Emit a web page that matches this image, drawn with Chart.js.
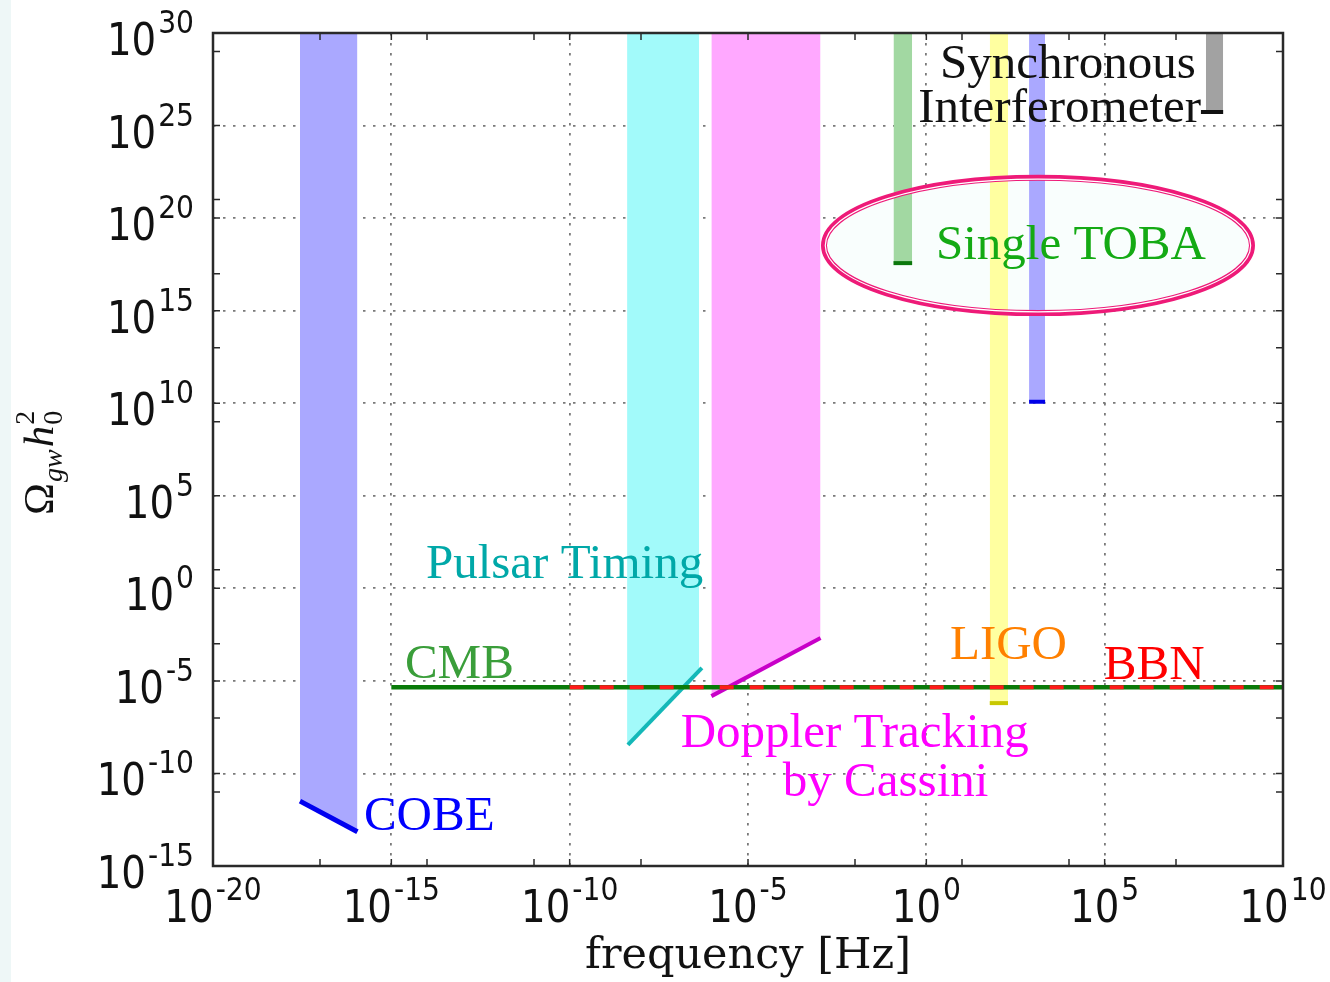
<!DOCTYPE html>
<html><head><meta charset="utf-8">
<script src="https://cdn.jsdelivr.net/npm/chart.js@4.4.1/dist/chart.umd.min.js"></script>
<style>html,body{margin:0;padding:0;background:#fff;overflow:hidden}canvas{display:block}</style>
</head><body>
<canvas id="c" width="1330" height="982"></canvas>
<script>
// ---- axes (exponents of ten) ----
const xTickExps = [-20, -15, -10, -5, 0, 5, 10];
const yTickExps = [-15, -10, -5, 0, 5, 10, 15, 20, 25, 30];
const xMinorTickExps = [-17, -14, -11, -8, -2, 1, 4, 7];
const yMinorTickExps = [29, 21, 17, 13, 9, 1, -3, -7, -11];
const xTitle = 'frequency [Hz]';

// ---- data: frequency [Hz], Omega_gw h0^2 ----
const cobeEdge    = [{x:2.75e-18, y:3.2e-12}, {x:1.12e-16, y:7.1e-14}];
const pulsarBand  = [{x:4.07e-9, y:3.3e-9}, {x:4.27e-7, y:3.6e-5}];
const pulsarLine  = [{x:4.3e-9, y:3.5e-9}, {x:5.1e-7, y:5.0e-5}];
const dopplerEdge = [{x:9.4e-7, y:1.5e-6}, {x:1.08e-3, y:2.05e-3}];
const tobaBand    = [{x:0.12, y:3.7e17}, {x:0.40, y:3.7e17}];
const ligoBand    = [{x:60, y:6.3e-7}, {x:195, y:6.3e-7}];
const blueBand    = [{x:760, y:1.2e10}, {x:2140, y:1.2e10}];
const syncBand    = [{x:6.9e7, y:5.4e25}, {x:2.1e8, y:5.4e25}];
const syncMarker  = [{x:5.0e7, y:5.4e25}, {x:2.1e8, y:5.4e25}];
const cmbLine     = [{x:1e-15, y:4.5e-6}, {x:1e10, y:4.5e-6}];
const bbnLine     = [{x:1e-10, y:4.5e-6}, {x:1e10, y:4.5e-6}];

// ---- annotations (data coordinates) ----
const labels = [
  {text:'Synchronous',      x:2.4,     y:3.7e27,  color:'#111111'},
  {text:'Interferometer',   x:0.59,    y:1.55e25, color:'#111111'},
  {text:'Single TOBA',      x:1.86,    y:6.2e17,  color:'#14aa14'},
  {text:'Pulsar Timing',    x:9.3e-15, y:3.6,     color:'#00a8a8'},
  {text:'CMB',              x:2.4e-15, y:1.45e-5, color:'#3a9e3a'},
  {text:'COBE',             x:1.7e-16, y:8.9e-14, color:'#0000ff'},
  {text:'Doppler Tracking', x:1.3e-7,  y:2.7e-9,  color:'#ff00ff'},
  {text:'by Cassini',       x:9.5e-5,  y:6.0e-12, color:'#ff00ff'},
  {text:'LIGO',             x:4.6,     y:1.5e-4,  color:'#ff8000'},
  {text:'BBN',              x:9.5e4,   y:1.26e-5, color:'#ff0000'}
];
const ellipseBox = {xMin:1.35e-3, xMax:1.35e9, yMin:7.4e14, yMax:1.5e22};

const T = 'rgba(0,0,0,0)';
function band(data, color){ return {data, fill:'end', backgroundColor:color, borderColor:T, borderWidth:0, pointRadius:0, order:20}; }
function line(data, color, w, extra){ return Object.assign({data, fill:false, borderColor:color, borderWidth:w, pointRadius:0, order:5}, extra||{}); }

const datasets = [
  band(cobeEdge, '#aaa8ff'),
  band(pulsarBand, '#a2fafa'),
  band(dopplerEdge, '#ffa8ff'),
  band(tobaBand, '#a2d8a2'),
  band(ligoBand, '#ffffa0'),
  band(blueBand, '#aaa8ff'),
  band(syncBand, '#a2a2a2'),
  line(cobeEdge, '#0000f0', 5),
  line(pulsarLine, '#14b8b8', 4),
  line(dopplerEdge, '#c800c8', 4),
  line(tobaBand, '#0c780c', 4),
  line(ligoBand, '#c8c800', 4),
  line(blueBand, '#0000e8', 4),
  line(syncMarker, '#111111', 4),
  line(cmbLine, '#0a7a0a', 4.5, {order:2}),
  line(bbnLine, '#ff1a1a', 4, {order:1, borderDash:[14,16]})
];

const DIGF = '"DejaVu Sans", sans-serif';
const SX = 0.88;
function drawPow(ctx, e, x, yBase, mode){
  const bf = '44px ' + DIGF, ef = '32px ' + DIGF;
  ctx.font = bf; const wb = ctx.measureText('10').width * SX;
  ctx.font = ef; const es = String(e); const we = ctx.measureText(es).width * SX;
  const gap = 2;
  const W = wb + gap + we;
  let x0 = mode === 'right' ? x - W : x - W / 2;
  ctx.save(); ctx.translate(x0, yBase); ctx.scale(SX, 1); ctx.font = bf; ctx.fillText('10', 0, 0); ctx.restore();
  ctx.save(); ctx.translate(x0 + wb + gap, yBase - 22); ctx.scale(SX, 1); ctx.font = ef; ctx.fillText(es, 0, 0); ctx.restore();
}
function ellipseGeom(chart){
  const xs = chart.scales.x, ys = chart.scales.y;
  const x1 = xs.getPixelForValue(ellipseBox.xMin), x2 = xs.getPixelForValue(ellipseBox.xMax);
  const y1 = ys.getPixelForValue(ellipseBox.yMax), y2 = ys.getPixelForValue(ellipseBox.yMin);
  return {cx:(x1+x2)/2, cy:(y1+y2)/2, rx:(x2-x1)/2, ry:(y2-y1)/2};
}

const decor = {
  id:'decor',
  beforeDraw(chart){
    const ctx = chart.ctx;
    ctx.save();
    ctx.fillStyle = '#ffffff'; ctx.fillRect(0,0,chart.width,chart.height);
    ctx.fillStyle = '#eef7f7'; ctx.fillRect(0,0,11,chart.height);
    ctx.restore();
  },
  beforeDatasetsDraw(chart){
    const ctx = chart.ctx, g = ellipseGeom(chart);
    ctx.save();
    ctx.beginPath(); ctx.ellipse(g.cx, g.cy, g.rx, g.ry, 0, 0, Math.PI*2);
    ctx.fillStyle = '#f9fefd'; ctx.fill();
    ctx.restore();
  },
  afterDraw(chart){
    const ctx = chart.ctx, xs = chart.scales.x, ys = chart.scales.y, a = chart.chartArea;
    const g = ellipseGeom(chart);
    ctx.save();
    ctx.beginPath(); ctx.ellipse(g.cx, g.cy, g.rx, g.ry, 0, 0, Math.PI*2);
    ctx.strokeStyle = '#ee1a78'; ctx.lineWidth = 6; ctx.stroke();
    ctx.beginPath(); ctx.ellipse(g.cx, g.cy, g.rx-1.3, g.ry-1.3, 0, 0, Math.PI*2);
    ctx.strokeStyle = '#ffffff'; ctx.lineWidth = 1.2; ctx.stroke();
    ctx.restore();
    // frame
    ctx.save();
    ctx.strokeStyle = '#2a2a2a'; ctx.lineWidth = 2.5;
    ctx.strokeRect(a.left, a.top, a.right - a.left, a.bottom - a.top);
    // inner tick marks
    ctx.lineWidth = 1.5; ctx.beginPath();
    xTickExps.concat(xMinorTickExps).forEach(e => {
      const p = xs.getPixelForValue(Math.pow(10, e));
      ctx.moveTo(p, a.bottom); ctx.lineTo(p, a.bottom - 7);
      ctx.moveTo(p, a.top); ctx.lineTo(p, a.top + 7);
    });
    yTickExps.concat(yMinorTickExps).forEach(e => {
      const p = ys.getPixelForValue(Math.pow(10, e));
      ctx.moveTo(a.left, p); ctx.lineTo(a.left + 7, p);
      ctx.moveTo(a.right, p); ctx.lineTo(a.right - 7, p);
    });
    ctx.stroke();
    // tick labels
    ctx.fillStyle = '#111'; ctx.textAlign = 'left'; ctx.textBaseline = 'alphabetic';
    yTickExps.forEach(e => { const p = ys.getPixelForValue(Math.pow(10, e)); drawPow(ctx, e, 194, p + 22, 'right'); });
    xTickExps.forEach(e => { const p = xs.getPixelForValue(Math.pow(10, e)); drawPow(ctx, e, p, 922, 'center'); });
    // x title
    ctx.font = '43px "DejaVu Serif", serif'; ctx.textAlign = 'center';
    ctx.fillText(xTitle, (a.left + a.right)/2, 968);
    // y title: Omega_gw h_0^2
    ctx.translate(53, 515); ctx.rotate(-Math.PI/2); ctx.textAlign = 'left';
    let cur = 0;
    ctx.font = '43px "Liberation Serif", serif'; ctx.fillText('\u03A9', cur, 0); cur += ctx.measureText('\u03A9').width + 1;
    ctx.font = 'italic 28px "Liberation Serif", serif'; ctx.fillText('gw', cur, 9); cur += ctx.measureText('gw').width + 2;
    ctx.font = 'italic 43px "Liberation Serif", serif'; ctx.fillText('h', cur, 0); cur += ctx.measureText('h').width + 1;
    ctx.font = '28px "Liberation Serif", serif'; ctx.fillText('0', cur, 9); ctx.fillText('2', cur, -19);
    ctx.restore();
    // annotation labels
    ctx.save();
    ctx.font = '49px "Liberation Serif", serif'; ctx.textAlign = 'left'; ctx.textBaseline = 'alphabetic';
    labels.forEach(l => { ctx.fillStyle = l.color; ctx.fillText(l.text, xs.getPixelForValue(l.x), ys.getPixelForValue(l.y)); });
    ctx.restore();
  }
};

const gridOpts = {color:'#7a7a7a', lineWidth:1.8, drawTicks:false};
new Chart(document.getElementById('c'), {
  type:'line',
  data:{datasets},
  options:{
    responsive:false, animation:false, devicePixelRatio:1,
    layout:{padding:{left:213, top:33, right:47, bottom:116}},
    plugins:{legend:{display:false}, tooltip:{enabled:false}},
    elements:{line:{tension:0}},
    scales:{
      x:{type:'logarithmic', min:1e-20, max:1e10, z:1,
         afterBuildTicks:s => { s.ticks = xTickExps.map(e => ({value:Math.pow(10, e)})); },
         afterFit:s => { s.height = 0; },
         ticks:{display:false}, grid:gridOpts, border:{display:false, dash:[2.5,7.5]}},
      y:{type:'logarithmic', min:1e-15, max:1e30, z:1,
         afterBuildTicks:s => { s.ticks = yTickExps.map(e => ({value:Math.pow(10, e)})); },
         afterFit:s => { s.width = 0; },
         ticks:{display:false}, grid:gridOpts, border:{display:false, dash:[2.5,7.5]}}
    }
  },
  plugins:[decor]
});
</script>
</body></html>
